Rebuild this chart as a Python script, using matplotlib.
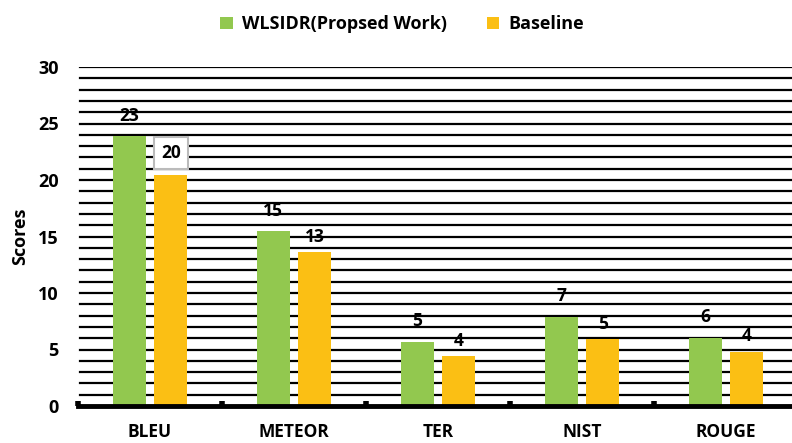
import matplotlib.pyplot as plt
import numpy as np

metrics = ['BLEU', 'METEOR', 'TER', 'NIST', 'ROUGE']
proposed = [23.9, 15.5, 5.7, 7.9, 6.05]
baseline = [20.4, 13.6, 4.4, 5.9, 4.8]

green = '#92C84F'
orange = '#FBBF14'

plt.rcParams['font.family'] = ['Open Sans', 'DejaVu Sans']
plt.rcParams['font.weight'] = 'bold'

fig = plt.figure(figsize=(7.92, 4.43), dpi=100)
ax = fig.add_axes([78 / 792, 37 / 443, 720 / 792, 339 / 443])

x = np.arange(len(metrics))
w = 0.23
off = 0.144

ax.set_ylim(0, 30)
ax.set_xlim(-0.5, len(metrics) - 0.5)

# horizontal grid at every unit
for yv in range(1, 31):
    ax.axhline(yv, xmin=0.003, color='black', lw=1.6, zorder=0)

b1 = ax.bar(x - off, proposed, w, color=green, label='WLSIDR(Propsed Work)', zorder=2)
b2 = ax.bar(x + off, baseline, w, color=orange, label='Baseline', zorder=2)

for i, v in enumerate(proposed):
    ax.text(x[i] - off, v + 1.0, str(int(v)), ha='center', va='bottom',
            fontsize=12.5, fontweight='bold')
for i, v in enumerate(baseline):
    if i == 0:
        ax.text(x[i] + off, v + 2.0, str(int(v)), ha='center', va='center',
                fontsize=12.5, fontweight='bold',
                bbox=dict(boxstyle='square,pad=0.42', fc='white', ec='#BBBBBB', lw=1.5))
    else:
        ax.text(x[i] + off, v + 0.6, str(int(v)), ha='center', va='bottom',
                fontsize=12.5, fontweight='bold')

for s in ['top', 'right', 'left']:
    ax.spines[s].set_visible(False)
ax.spines['bottom'].set_linewidth(3.5)
ax.spines['bottom'].set_zorder(5)

# small separators between categories
for xs in np.arange(-0.5, len(metrics) - 0.5):
    ax.plot([xs, xs], [0, 0.45], color='black', lw=4, solid_capstyle='butt',
            zorder=5, clip_on=False)

ax.set_xticks(x)
ax.set_xticklabels(metrics, fontsize=12.5, fontweight='bold')
ax.tick_params(axis='x', length=0, pad=12)
ax.set_yticks(range(0, 31, 5))
ax.tick_params(axis='y', length=0, labelsize=13, pad=14)
for lab in ax.get_yticklabels():
    lab.set_fontweight('bold')
ax.set_ylabel('Scores', fontsize=13, fontweight='bold', labelpad=6)

ax.legend(loc='upper center', bbox_to_anchor=(0.45, 1.2), ncol=2, frameon=False,
          handlelength=0.7, handleheight=0.7, columnspacing=2.2,
          handletextpad=0.5, prop={'weight': 'bold', 'size': 13})

fig.savefig('out.png', dpi=100)
